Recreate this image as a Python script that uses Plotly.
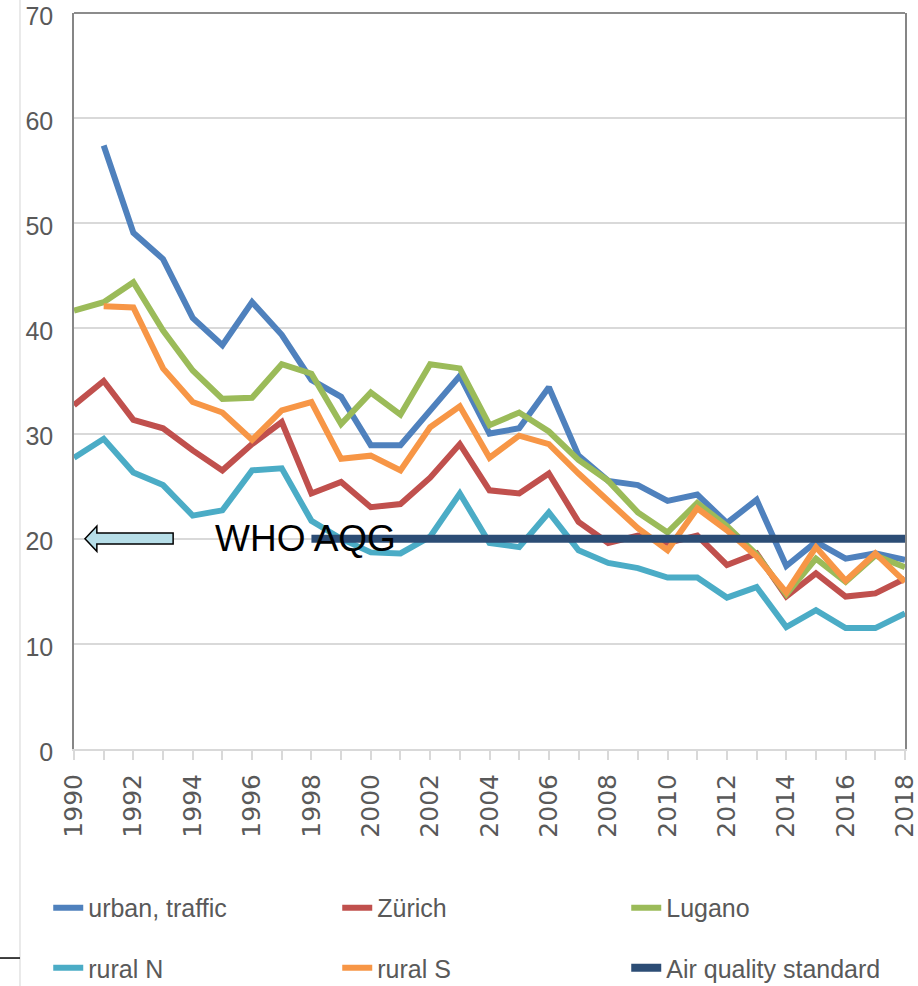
import plotly.graph_objects as go

years = list(range(1990, 2019))
urban_traffic = [None, 57.4, 49.1, 46.6, 41.0, 38.4, 42.5, 39.4, 35.1, 33.5, 28.9, 28.9, 32.1, 35.5, 30.0, 30.5, 34.4, 27.9,
                 25.5, 25.1, 23.6, 24.2, 21.5, 23.7, 17.4, 19.7, 18.1, 18.6, 18.0]
zurich = [32.7, 35.0, 31.3, 30.5, 28.4, 26.5, 29.0, 31.1, 24.3, 25.4, 23.0, 23.3, 25.8, 29.0, 24.6, 24.3, 26.2, 21.6,
          19.6, 20.3, 19.6, 20.3, 17.5, 18.6, 14.5, 16.7, 14.5, 14.8, 16.2]
lugano = [41.7, 42.5, 44.4, 39.8, 36.0, 33.3, 33.4, 36.6, 35.7, 30.9, 33.9, 31.8, 36.6, 36.2, 30.8, 32.0, 30.2, 27.5,
          25.5, 22.5, 20.6, 23.4, 21.2, 18.5, 14.7, 18.1, 15.9, 18.4, 17.3]
rural_n = [27.7, 29.5, 26.3, 25.1, 22.2, 22.7, 26.5, 26.7, 21.7, 20.0, 18.7, 18.6, 20.2, 24.3, 19.6, 19.2, 22.5, 18.9,
           17.7, 17.2, 16.3, 16.3, 14.4, 15.4, 11.6, 13.2, 11.5, 11.5, 12.9]
rural_s = [None, 42.1, 42.0, 36.2, 33.0, 32.0, 29.4, 32.2, 33.0, 27.6, 27.9, 26.5, 30.6, 32.6, 27.7, 29.8, 29.0, 26.2,
           23.6, 21.0, 18.9, 22.9, 20.8, 18.3, 14.9, 19.2, 16.0, 18.6, 15.9]
air_quality_standard = [None] * 8 + [20] * 21

x_tick_vals = list(range(1990, 2019, 2))
x_tick_text = [str(v) for v in x_tick_vals]
y_tick_vals = [0, 10, 20, 30, 40, 50, 60, 70]

series = [
    ("urban, traffic", urban_traffic, "#4f81bd", 6, "legend"),
    ("Zürich", zurich, "#c0504d", 6, "legend"),
    ("Lugano", lugano, "#9bbb59", 6, "legend"),
    ("rural N", rural_n, "#4bacc6", 6, "legend2"),
    ("rural S", rural_s, "#f79646", 6, "legend2"),
    ("Air quality standard", air_quality_standard, "#2c4d75", 8, "legend2"),
]

fig = go.Figure()
for name, vals, col, w, lg in series:
    fig.add_trace(go.Scatter(x=years, y=vals, mode="lines", name=name,
                             line=dict(color=col, width=w), legend=lg,
                             connectgaps=False, hoverinfo="skip"))

gray_txt = "#595959"
sans = "Liberation Sans, Arial, sans-serif"

legend_common = dict(orientation="h", xref="paper", yref="paper", xanchor="left", yanchor="middle",
                     entrywidth=244, entrywidthmode="pixels", bgcolor="rgba(0,0,0,0)",
                     font=dict(family=sans, size=25, color=gray_txt), itemwidth=30,
                     traceorder="normal")

fig.update_layout(
    width=918, height=986,
    margin=dict(l=74, r=13, t=13, b=237, autoexpand=False),
    plot_bgcolor="white", paper_bgcolor="white",
    showlegend=True,
    legend=dict(x=-0.031, y=-0.216, **legend_common),
    legend2=dict(x=-0.031, y=-0.2976, **legend_common),
    xaxis=dict(range=[1990, 2018], tickvals=x_tick_vals, ticktext=x_tick_text, tickangle=-90,
               tickfont=dict(family="DejaVu Sans, sans-serif", size=25, color=gray_txt),
               showgrid=False, zeroline=False, showline=True, linecolor="#d9d9d9", linewidth=2,
               ticks="outside", ticklen=9, tickcolor="#d9d9d9", tickwidth=1.5,
               minor=dict(dtick=1, tick0=1990, ticks="outside", ticklen=9, tickcolor="#d9d9d9", tickwidth=1.5),
               ticklabelstandoff=4, automargin=False, ticklabeloverflow="allow"),
    yaxis=dict(range=[0, 70], tickvals=y_tick_vals, tickfont=dict(family=sans, size=25, color=gray_txt),
               showgrid=True, gridcolor="#d9d9d9", gridwidth=2, zeroline=False,
               showline=True, linecolor="#868686", linewidth=1.5, mirror=True, ticks="",
               ticklabelstandoff=14, ticklabelshift=3, automargin=False, ticklabeloverflow="allow"),
)

# top frame line
fig.add_shape(type="line", xref="paper", yref="paper", x0=0, x1=1, y0=1, y1=1,
              line=dict(color="#8c8c8c", width=2), layer="above")

# block arrow pointing to the 20 level on the y axis
fig.add_shape(type="path", xref="x", yref="y",
              path="M 1990.37 20.0 L 1990.77 21.2 L 1990.77 20.55 L 1993.34 20.55 L 1993.34 19.5 "
                   "L 1990.77 19.5 L 1990.77 18.8 Z",
              fillcolor="#b7dee8", line=dict(color="black", width=1.5), layer="above")

fig.add_annotation(x=1997.8, y=20, xref="x", yref="y", text="WHO AQG", showarrow=False,
                   font=dict(family=sans, size=37, color="black"))

# faint outer border of the original frame
fig.add_shape(type="line", xref="paper", yref="paper", x0=-0.065, x1=-0.065, y0=-0.33, y1=1.03,
              line=dict(color="#e3e3e3", width=1.5))
fig.add_shape(type="line", xref="paper", yref="paper", x0=-0.09, x1=-0.065, y0=-0.284, y1=-0.284,
              line=dict(color="black", width=1.5))

fig.write_html("out.html", config={"displayModeBar": False},
               post_script="document.body.style.margin='0';")
